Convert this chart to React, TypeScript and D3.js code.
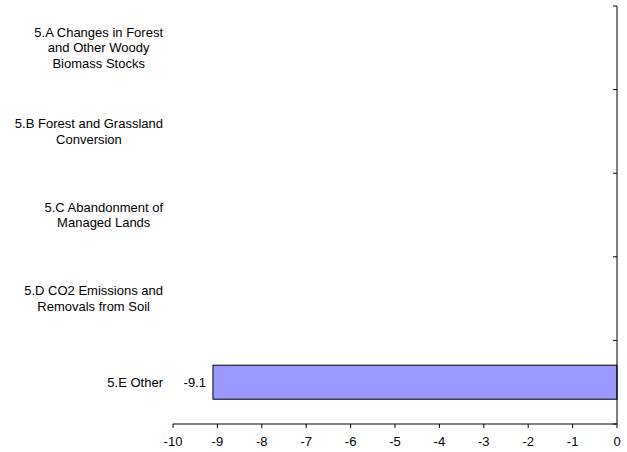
import React, { useEffect, useRef } from "react";
import * as d3 from "d3";

const categories: string[][] = [
  ["5.A Changes in Forest", "and Other Woody", "Biomass Stocks"],
  ["5.B Forest and Grassland", "Conversion"],
  ["5.C Abandonment of", "Managed Lands"],
  ["5.D CO2 Emissions and", "Removals from Soil"],
  ["5.E Other"],
];
const values: (number | null)[] = [null, null, null, null, -9.1];
const xTicks: number[] = [-10, -9, -8, -7, -6, -5, -4, -3, -2, -1, 0];

const W = 627;
const H = 452;
const FONT = "Arial, 'Liberation Sans', sans-serif";
const FS = 13;

export default function App() {
  const ref = useRef<SVGSVGElement>(null);

  useEffect(() => {
    const svg = d3.select(ref.current);
    svg.selectAll("*").remove();

    const left = 173, right = 617, top = 6, bottom = 424;
    const x = d3.scaleLinear().domain([-10, 0]).range([left, right]);
    const bandStep = (bottom - top) / categories.length;

    // bars
    values.forEach((v, i) => {
      if (v == null) return;
      const x0 = x(Math.min(v, 0));
      const x1 = x(Math.max(v, 0));
      const cy = top + bandStep * (i + 0.5);
      const bh = 34;
      svg
        .append("rect")
        .attr("x", x0)
        .attr("y", cy - bh / 2)
        .attr("width", x1 - x0)
        .attr("height", bh)
        .attr("fill", "#9999FF")
        .attr("stroke", "#000")
        .attr("stroke-width", 1);
      svg
        .append("text")
        .attr("x", x0 - 7)
        .attr("y", cy)
        .attr("dy", "0.35em")
        .attr("text-anchor", "end")
        .attr("font-family", FONT)
        .attr("font-size", FS)
        .text(v.toFixed(1));
    });

    // bottom axis
    const g = svg.append("g");
    g.append("line")
      .attr("x1", left).attr("x2", right)
      .attr("y1", bottom).attr("y2", bottom)
      .attr("stroke", "#000");
    xTicks.forEach((t) => {
      g.append("line")
        .attr("x1", x(t)).attr("x2", x(t))
        .attr("y1", bottom).attr("y2", bottom + 4)
        .attr("stroke", "#000");
      g.append("text")
        .attr("x", x(t))
        .attr("y", bottom + 22)
        .attr("text-anchor", "middle")
        .attr("font-family", FONT)
        .attr("font-size", FS)
        .text(String(t));
    });

    // right axis (at zero)
    g.append("line")
      .attr("x1", x(0)).attr("x2", x(0))
      .attr("y1", top).attr("y2", bottom)
      .attr("stroke", "#000");
    for (let i = 0; i <= categories.length; i++) {
      const yy = top + bandStep * i;
      g.append("line")
        .attr("x1", x(0) - 4).attr("x2", x(0))
        .attr("y1", yy).attr("y2", yy)
        .attr("stroke", "#000");
    }

    // category labels
    const lh = 15.5;
    categories.forEach((lines, i) => {
      const cy = top + bandStep * (i + 0.5);
      const tg = svg.append("g");
      const texts = lines.map((ln, k) =>
        tg
          .append("text")
          .attr("y", cy + (k - (lines.length - 1) / 2) * lh)
          .attr("dy", "0.35em")
          .attr("text-anchor", "middle")
          .attr("font-family", FONT)
          .attr("font-size", FS)
          .text(ln)
      );
      const widths = texts.map((t) => (t.node() as SVGTextElement).getComputedTextLength());
      const maxW = Math.max(...widths);
      const cx = 163 - maxW / 2;
      texts.forEach((t) => t.attr("x", cx));
    });
  }, []);

  return (
    <svg
      ref={ref}
      width={W}
      height={H}
      style={{ position: "absolute", left: 0, top: 0, background: "#fff" }}
    />
  );
}
